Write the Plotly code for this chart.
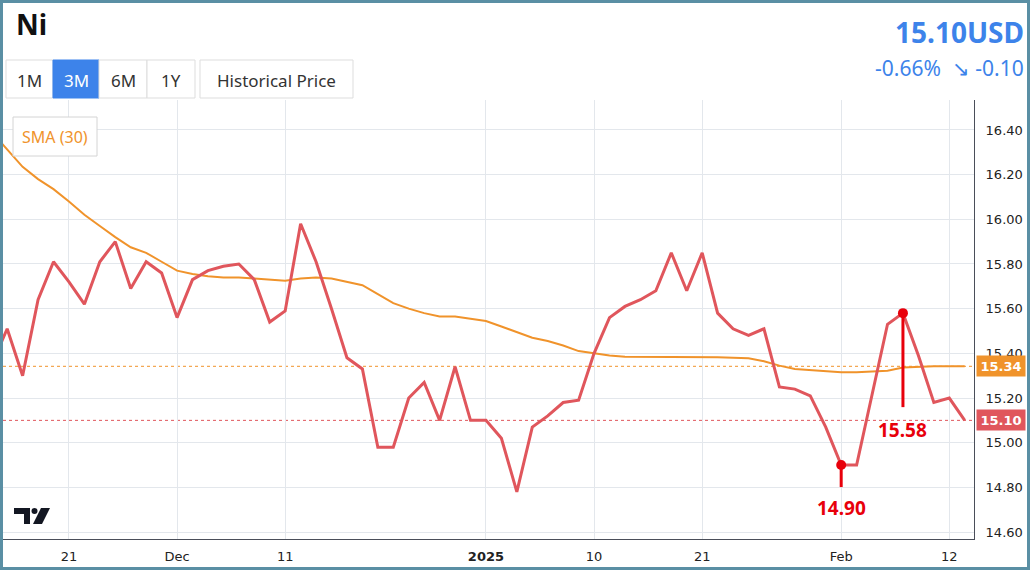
import plotly.graph_objects as go
import pandas as pd

# ---------------- data ----------------
holidays = ["12-25", "12-26"]
trade_dates = [d.strftime("%Y-%m-%d") for d in pd.bdate_range("2024-11-14", "2025-02-13")
               if d.strftime("%m-%d") not in holidays]

price = [15.35, 15.51, 15.30, 15.64, 15.81, 15.72, 15.62, 15.81, 15.90, 15.69,
         15.81, 15.76, 15.56, 15.73, 15.77, 15.79, 15.80, 15.73, 15.54, 15.59,
         15.98, 15.81, 15.60, 15.38, 15.33, 14.98, 14.98, 15.20, 15.27, 15.10,
         15.34, 15.10, 15.10, 15.02, 14.78, 15.07, 15.12, 15.18, 15.19, 15.40,
         15.56, 15.61, 15.64, 15.68, 15.85, 15.68, 15.85, 15.58, 15.51, 15.48,
         15.51, 15.25, 15.24, 15.21, 15.07, 14.90, 14.90, 15.21, 15.53, 15.58,
         15.39, 15.18, 15.20, 15.10]

sma30 = [16.39, 16.31, 16.235, 16.18, 16.135, 16.08, 16.02, 15.97, 15.92, 15.875,
         15.85, 15.81, 15.77, 15.755, 15.745, 15.74, 15.74, 15.735, 15.73, 15.725,
         15.735, 15.74, 15.735, 15.72, 15.705, 15.665, 15.625, 15.60, 15.58, 15.565,
         15.565, 15.555, 15.545, 15.52, 15.495, 15.47, 15.455, 15.435, 15.41, 15.40,
         15.39, 15.385, 15.385, 15.385, 15.385, 15.385, 15.385, 15.383, 15.38, 15.378,
         15.365, 15.345, 15.33, 15.325, 15.317, 15.315, 15.315, 15.318, 15.322, 15.337,
         15.34, 15.342, 15.342, 15.342]

tick_dates = ["2024-11-21", "2024-12-02", "2024-12-11", "2025-01-01",
              "2025-01-10", "2025-01-21", "2025-02-03", "2025-02-12"]
tick_labels = ["21", "Dec", "11", "<b>2025</b>", "10", "21", "Feb", "12"]
y_ticks = [14.6, 14.8, 15.0, 15.2, 15.4, 15.6, 15.8, 16.0, 16.2, 16.4]
y_tick_labels = [f"{v:.2f}" for v in y_ticks]
mark_dates = ["2025-02-03", "2025-02-07"]
range_buttons = ["1M", "3M", "6M", "1Y"]

# ---------------- style ----------------
W, H = 1030, 570
ML, MR, MT, MB = 3, 56, 100, 31
PW, PH = W - ML - MR, H - MT - MB
RED = "#e0565c"
ORANGE = "#f0932b"
BLUE = "#3d83ea"
MARK = "#e8000b"
FONT = "Noto Sans"
AXFONT = "DejaVu Sans"


def px(x):
    return (x - ML) / PW


def py(y):
    return (H - MB - y) / PH


def paper_text(x, y, text, size, color, xanchor="center", bold=False):
    return dict(x=px(x), y=py(y), xref="paper", yref="paper", xanchor=xanchor, yanchor="middle",
                text=f"<b>{text}</b>" if bold else text, showarrow=False,
                font=dict(family=FONT, size=size, color=color))


fig = go.Figure()
fig.add_trace(go.Scatter(x=trade_dates, y=sma30, mode="lines",
                         line=dict(color=ORANGE, width=2), hoverinfo="skip"))
fig.add_trace(go.Scatter(x=trade_dates, y=price, mode="lines",
                         line=dict(color=RED, width=3), hoverinfo="skip"))

mark_idx = [trade_dates.index(d) for d in mark_dates]
mark_vals = [price[i] for i in mark_idx]
line_len = [22, 94]
text_shift = [-43, -117]

shapes = []
annotations = []

# dotted last-value lines
for val, col in [(sma30[-1], ORANGE), (price[-1], RED)]:
    shapes.append(dict(type="line", xref="paper", x0=0, x1=1, yref="y", y0=val, y1=val,
                       line=dict(color=col, width=1, dash="dot"), layer="below"))

for i, v, L, ts in zip(mark_idx, mark_vals, line_len, text_shift):
    shapes.append(dict(type="line", xref="x", x0=i, x1=i, yref="y", ysizemode="pixel",
                       yanchor=v, y0=0, y1=-L, line=dict(color=MARK, width=3)))
    annotations.append(dict(x=trade_dates[i], y=v, xref="x", yref="y", text=f"<b>{v:.2f}</b>",
                            showarrow=False, yshift=ts, yanchor="middle",
                            font=dict(family=FONT, size=19, color=MARK)))

fig.add_trace(go.Scatter(x=[trade_dates[i] for i in mark_idx], y=mark_vals, mode="markers",
                         marker=dict(color=MARK, size=10), hoverinfo="skip"))

# right side value boxes
for val, col in [(sma30[-1], ORANGE), (price[-1], RED)]:
    annotations.append(dict(x=1, xref="paper", xanchor="left", xshift=2, y=val, yref="y",
                            yanchor="middle",
                            text=f"<b>{val:.2f}</b>", showarrow=False, bgcolor=col,
                            font=dict(family=AXFONT, size=13, color="white"),
                            width=46, height=18, borderpad=1))

# outer border
shapes.append(dict(type="rect", xref="paper", yref="paper", x0=px(1.5), x1=px(W - 1.5),
                   y0=py(H - 1.5), y1=py(1.5), line=dict(color="#5a8fa4", width=3)))

# header: title
annotations.append(paper_text(14, 24, "Ni", 28, "#111", xanchor="left", bold=True))

# buttons
btn_edges = [6, 53, 99, 147, 195]
for k, lab in enumerate(range_buttons):
    active = lab == "3M"
    shapes.append(dict(type="rect", xref="paper", yref="paper",
                       x0=px(btn_edges[k]), x1=px(btn_edges[k + 1]), y0=py(98), y1=py(60),
                       fillcolor=BLUE if active else "white",
                       line=dict(color=BLUE if active else "#dddddd", width=1)))
    annotations.append(paper_text((btn_edges[k] + btn_edges[k + 1]) / 2, 80, lab, 17,
                                  "white" if active else "#333"))
shapes.append(dict(type="rect", xref="paper", yref="paper", x0=px(200), x1=px(353),
                   y0=py(98), y1=py(60), fillcolor="white", line=dict(color="#dddddd", width=1)))
annotations.append(paper_text(276.5, 80, "Historical Price", 17, "#333"))

# header: price
last = price[-1]
chg = price[-1] - price[-2]
pct = chg / price[-2] * 100
annotations.append(paper_text(1026, 32, f"{last:.2f}USD", 28, BLUE, xanchor="right", bold=True))
annotations.append(paper_text(1026, 68, f"{pct:.2f}%  \u2198 {chg:.2f}", 21, BLUE, xanchor="right"))

# SMA legend box
shapes.append(dict(type="rect", xref="paper", yref="paper", x0=px(13), x1=px(97),
                   y0=py(156), y1=py(117), fillcolor="white", line=dict(color="#d4d4d4", width=1)))
annotations.append(paper_text(55, 137, "SMA (30)", 16, ORANGE))

# TradingView-like logo
shapes.append(dict(type="path", xref="paper", yref="paper", fillcolor="#131722", line=dict(width=0),
                   path=(f"M {px(14)},{py(508)} L {px(30)},{py(508)} L {px(30)},{py(524)} "
                         f"L {px(24)},{py(524)} L {px(24)},{py(514)} L {px(14)},{py(514)} Z")))
shapes.append(dict(type="circle", xref="paper", yref="paper", fillcolor="#131722", line=dict(width=0),
                   x0=px(31.5), x1=px(37.5), y0=py(514), y1=py(508)))
shapes.append(dict(type="path", xref="paper", yref="paper", fillcolor="#131722", line=dict(width=0),
                   path=(f"M {px(41)},{py(508)} L {px(50)},{py(508)} L {px(42)},{py(524)} "
                         f"L {px(33)},{py(524)} Z")))

fig.update_layout(
    width=W, height=H,
    margin=dict(l=ML, r=MR, t=MT, b=MB, pad=0),
    paper_bgcolor="white", plot_bgcolor="white",
    showlegend=False,
    shapes=shapes, annotations=annotations,
    xaxis=dict(type="category", range=[0.73, 63.6], tickmode="array",
               tickvals=tick_dates, ticktext=tick_labels, showgrid=True,
               gridcolor="#e3e7ec", gridwidth=1, showline=True, linecolor="#4a4e59",
               linewidth=1, ticks="", ticklabelstandoff=5, zeroline=False,
               tickfont=dict(family=AXFONT, size=13, color="#222")),
    yaxis=dict(side="right", range=[14.569, 16.534], tickmode="array",
               tickvals=y_ticks, ticktext=y_tick_labels, showgrid=True,
               gridcolor="#e3e7ec", gridwidth=1, showline=True, linecolor="#4a4e59",
               linewidth=1, ticks="", ticklabelstandoff=8, zeroline=False,
               tickfont=dict(family=AXFONT, size=13, color="#222")),
)

fig.write_html("out.html", config={"displayModeBar": False},
               post_script="document.body.style.margin='0px';")
